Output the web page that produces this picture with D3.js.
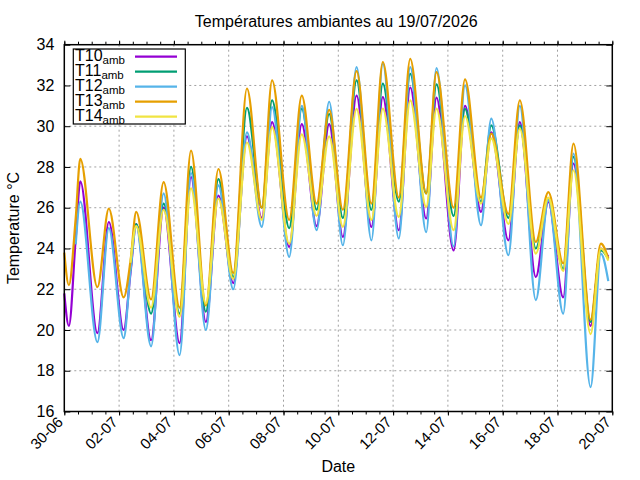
<!DOCTYPE html>
<html><head><meta charset="utf-8">
<script src="https://cdn.jsdelivr.net/npm/d3@7"></script>
<style>
body{margin:0;background:#fff}
text{font-family:"Liberation Sans",Arial,Helvetica,sans-serif;fill:#000}
</style>
</head><body>
<svg id="c" width="640" height="480"></svg>
<script>
// ---- data ----
const times = [
"2026-06-30 00:00","2026-06-30 04:00","2026-06-30 10:00","2026-06-30 14:00",
"2026-07-01 05:00","2026-07-01 15:00","2026-07-02 04:00","2026-07-02 10:00","2026-07-02 15:00",
"2026-07-03 04:00","2026-07-03 15:00","2026-07-04 05:00","2026-07-04 15:00",
"2026-07-05 04:00","2026-07-05 15:00","2026-07-06 04:00","2026-07-06 16:00",
"2026-07-07 05:00","2026-07-07 14:00","2026-07-08 05:00","2026-07-08 16:00",
"2026-07-09 05:00","2026-07-09 16:00","2026-07-10 04:00","2026-07-10 16:00",
"2026-07-11 05:00","2026-07-11 15:00","2026-07-12 05:00","2026-07-12 15:00",
"2026-07-13 05:00","2026-07-13 14:00","2026-07-14 05:00","2026-07-14 15:00",
"2026-07-15 05:00","2026-07-15 14:00","2026-07-16 05:00","2026-07-16 15:00",
"2026-07-17 05:00","2026-07-17 16:00","2026-07-18 05:00","2026-07-18 14:00",
"2026-07-19 05:00","2026-07-19 14:00","2026-07-19 20:30"];
const T10 = [21.8,20.2,24.5,27.3, 19.85,25.3,20.0,22.8,25.2, 19.5,26.0,19.36,27.5, 20.4,26.6,22.3,29.5,
  25.5,30.2,24.08,30.1, 25.1,30.1,24.57,31.5, 25.06,31.43,24.9,31.9, 25.47,31.4,23.9,31.0,
  25.8,29.7,24.4,30.2, 22.6,26.28,21.6,28.17, 20.2,24.0,23.6];
const T11 = [null,null,null,null, null,null,null,22.9,25.2, 20.8,26.2,20.8,28.0, 20.9,27.4,22.6,30.9,
  26.0,31.27,25.0,30.86, 25.9,30.6,25.5,32.25, 25.9,32.09,26.3,32.57, 26.7,32.05,25.6,30.85,
  26.3,30.04,25.5,30.04, 24.0,26.4,23.0,28.5, 20.4,23.9,23.5];
const T12 = [null,null,24.2,26.3, 19.4,25.0,19.6,22.9,25.1, 19.2,26.7,18.77,27.7, 20.0,27.1,22.0,29.7,
  25.06,30.94,23.59,31.0, 24.9,31.2,24.16,32.9, 24.4,33.07,24.49,32.9, 24.8,32.85,24.1,32.0,
  25.14,30.37,23.67,31.0, 21.47,26.37,20.8,28.66, 17.2,23.75,22.4];
const T13 = [23.8,22.2,25.5,28.4, 22.1,25.96,21.6,23.4,25.8, 21.5,27.26,21.1,28.8, 21.2,27.9,22.8,31.85,
  26.0,32.25,25.4,31.5, 26.2,30.8,25.9,32.7, 26.2,33.15,26.5,33.3, 26.7,32.65,26.0,32.3,
  26.5,29.64,25.7,31.27, 24.32,26.77,23.27,29.15, 20.5,24.24,23.5];
const T14 = [null,null,null,null, null,null,null,23.3,25.1, 21.1,25.9,20.65,26.95, 21.3,26.45,22.5,29.2,
  25.4,29.96,24.24,29.6, 25.6,29.5,25.06,30.85, 25.4,30.86,25.55,31.27, 26.04,30.86,24.9,30.5,
  26.2,29.4,25.2,29.88, 23.75,26.5,22.9,27.84, 19.8,24.0,23.4];
const seriesNames = ["T10","T11","T12","T13","T14"];
const seriesColors = ["#9400d3","#009e73","#56b4e9","#e69f00","#f0e442"];
const yTickValues = [16,18,20,22,24,26,28,30,32,34];
const xStart = "2026-06-30 00:00", xEnd = "2026-07-20 00:00";
const titleText = "Températures ambiantes au 19/07/2026";

// ---- chart ----
const svg = d3.select("#c");
const L = 64.3, R = 612.3, T = 44.7, B = 411.5;
const parse = d3.timeParse("%Y-%m-%d %H:%M");
const x0 = parse(xStart), x1 = parse(xEnd);
const x = d3.scaleTime().domain([x0, x1]).range([L, R]);
const y = d3.scaleLinear().domain([16, 34]).range([B, T]);
const majorX = d3.range(0, d3.timeDay.count(x0, x1) + 1, 2).map(k => d3.timeDay.offset(x0, k));
const minorX = d3.timeHour.every(12).range(x0, d3.timeMinute.offset(x1, 1));

// grid
const grid = svg.append("g").attr("stroke", "#a0a0a0").attr("stroke-width", 1).attr("stroke-dasharray", "2,3");
majorX.slice(1, -1).forEach(d => grid.append("line").attr("x1", x(d)).attr("x2", x(d)).attr("y1", T).attr("y2", B));
yTickValues.slice(1, -1).forEach(v => grid.append("line").attr("x1", L).attr("x2", R).attr("y1", y(v)).attr("y2", y(v)));

// series
const dates = times.map(parse);
const series = [T10, T11, T12, T13, T14];
const line = d3.line().defined(d => d[1] != null).x(d => x(d[0])).y(d => y(d[1])).curve(d3.curveMonotoneX);
series.forEach((vals, i) => {
  svg.append("path").datum(dates.map((d, k) => [d, vals[k]]))
    .attr("fill", "none").attr("stroke", seriesColors[i]).attr("stroke-width", 2.2)
    .attr("stroke-linejoin", "round").attr("d", line);
});

// axes
const fmt = d3.timeFormat("%d-%m");
const ax = svg.append("g").attr("transform", `translate(0,${B})`)
  .call(d3.axisBottom(x).tickValues(majorX).tickFormat(fmt).tickSizeInner(4).tickSizeOuter(0));
ax.selectAll("text").attr("x", 0).attr("y", 0).attr("dy", 0)
  .attr("text-anchor", "end").attr("transform", "translate(-1,11.5) rotate(-45)")
  .style("font-size", "15px");
svg.append("g").attr("transform", `translate(0,${B})`)
  .call(d3.axisBottom(x).tickValues(minorX).tickFormat("").tickSizeInner(3).tickSizeOuter(0));
svg.append("g").attr("transform", `translate(0,${T})`)
  .call(d3.axisTop(x).tickValues(minorX).tickFormat("").tickSizeInner(3).tickSizeOuter(0));
svg.append("g").attr("transform", `translate(0,${T})`)
  .call(d3.axisTop(x).tickValues(majorX).tickFormat("").tickSizeInner(4).tickSizeOuter(0));
const ay = svg.append("g").attr("transform", `translate(${L},0)`)
  .call(d3.axisLeft(y).tickValues(yTickValues).tickSizeInner(-6).tickSizeOuter(0).tickPadding(10));
ay.selectAll("text").style("font-size", "16px");
svg.append("g").attr("transform", `translate(${R},0)`)
  .call(d3.axisRight(y).tickValues(yTickValues).tickFormat("").tickSizeInner(-6).tickSizeOuter(0));
svg.selectAll(".domain").remove();
svg.selectAll(".tick line").attr("stroke", "#000");

// border
svg.append("rect").attr("x", L).attr("y", T).attr("width", R - L).attr("height", B - T)
  .attr("fill", "none").attr("stroke", "#000").attr("stroke-width", 1.5);

// legend
const lg = svg.append("g");
lg.append("rect").attr("x", 73.3).attr("y", 49).attr("width", 112).attr("height", 75)
  .attr("fill", "#fff").attr("stroke", "#000").attr("stroke-width", 1.2);
seriesNames.forEach((n, i) => {
  const yy = 56.7 + 15 * i;
  lg.append("line").attr("x1", 135).attr("x2", 177).attr("y1", yy).attr("y2", yy)
    .attr("stroke", seriesColors[i]).attr("stroke-width", 2.2);
  const t = lg.append("text").attr("x", 75).attr("y", yy + 4.3).style("font-size", "16px");
  t.append("tspan").text(n);
  t.append("tspan").attr("dy", 3.4).style("font-size", "11.5px").text("amb");
});

// labels
svg.append("text").attr("x", 336.3).attr("y", 26.7).attr("text-anchor", "middle").style("font-size", "16px").text(titleText);
svg.append("text").attr("x", 338.3).attr("y", 471.5).attr("text-anchor", "middle").style("font-size", "16px").text("Date");
svg.append("text").attr("transform", "translate(19,228) rotate(-90)").attr("text-anchor", "middle").style("font-size", "16px").text("Temperature °C");
</script>
</body></html>
